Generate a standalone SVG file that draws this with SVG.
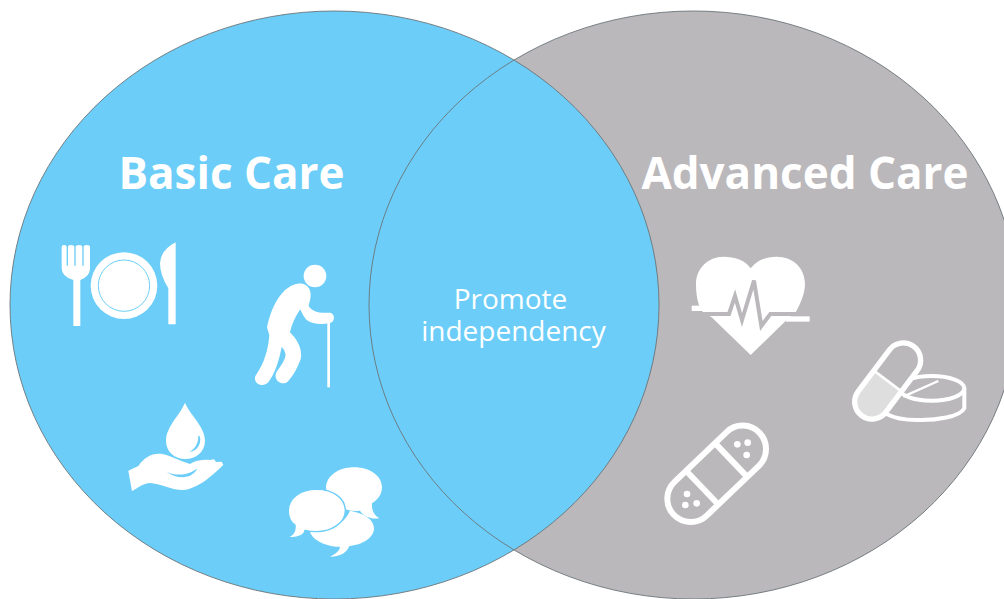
<svg xmlns="http://www.w3.org/2000/svg" width="1004" height="599" viewBox="0 0 1004 599">
<style>
.w{fill:#fff}
.t{fill:#fff;font-family:"Open Sans","Noto Sans","Liberation Sans",sans-serif;text-anchor:middle}
.h{font-size:44px;font-weight:700}
.s{font-size:28px}
.o{fill:none;stroke:#6a7478;stroke-width:.9}
.ln{fill:none;stroke:#fff;stroke-width:16;stroke-linecap:round;stroke-linejoin:round}
</style>
<rect width="1004" height="599" fill="#fff"/>
<g id="advanced-care">
<ellipse cx="693.5" cy="305" rx="324.5" ry="294" fill="#bab8bb"/>
<text class="t h" x="805" y="189">Advanced Care</text>
</g>
<g id="basic-care">
<ellipse cx="334.5" cy="305" rx="324.5" ry="294" fill="#6ccef8"/>
<text class="t h" x="231.500" y="189">Basic Care</text>
</g>
<g id="outlines">
<ellipse class="o" cx="693.5" cy="305" rx="324.5" ry="294"/>
<ellipse class="o" cx="334.5" cy="305" rx="324.5" ry="294"/>
</g>
<g id="promote">
<text class="t s"><tspan x="510.500" y="309">Promote</tspan><tspan x="513.500" y="341">independency</tspan></text>
</g>
<g id="meal-icon" transform="translate(40 220) scale(.3333)">
<path class="w" d="M65,80 Q65,75 72,75 Q80,75 80,80 V137 H84 V80 Q84,75 92,75 Q103,75 103,80 V137 H107 V80 Q107,75 117,75 Q127,75 127,80 V137 H131 V80 Q131,75 140,75 Q150,75 150,80 V145 Q150,170 121,180 V318 H100 V180 Q65,170 65,145 Z"/>
<circle class="w" cx="252" cy="197" r="100"/>
<circle cx="252" cy="197" r="77" fill="#fff" stroke="#6ccef8" stroke-width="3"/>
<path class="w" d="M407,67 V313 H385 V205 Q360,165 360,130 Q362,90 407,67 Z"/>
</g>
<g id="elder-icon" transform="translate(40 220) scale(.3333)">
<circle class="w" cx="825" cy="168" r="34"/>
<path class="w" d="M765,193 C785,187 805,193 811,215 C815,235 806,250 806,258 C818,275 835,280 868,278 C885,278 888,305 868,310 C840,314 815,312 800,300 Q790,290 781,268 C765,290 755,315 750,337 C775,362 788,390 782,418 C772,445 758,470 743,485 C725,500 697,478 710,455 C722,440 740,415 736,400 Q733,388 725,380 C718,420 705,460 685,487 C665,508 632,485 650,462 C672,430 685,390 688,345 L681,322 C690,280 705,240 735,210 Q750,197 765,193 Z"/>
<rect class="w" x="862" y="306" width="8" height="196"/>
</g>
<g id="water-icon" transform="translate(110 390) scale(.3333)">
<path class="w" d="M55,242 L85,228 C105,200 130,187 160,193 C185,198 205,212 240,222 C255,212 280,208 300,210 L312,208 L318,216 L335,215 L340,224 C310,255 265,295 220,300 C180,300 150,280 120,279 C100,280 85,292 66,304 Z"/>
<path d="M170,245 C195,258 235,258 262,235 C250,265 205,272 170,245 Z" fill="#6ccef8"/>
<path class="w" d="M225,38 C240,75 285,110 285,152 C285,185 258,207 226,207 C194,207 168,185 168,152 C168,110 210,75 225,38 Z" stroke="#6ccef8" stroke-width="5" paint-order="stroke"/>
<path d="M265,136 C266,160 255,178 238,186 C258,184 275,165 270,140 Z" fill="#6ccef8"/>
</g>
<g id="chat-icon" transform="translate(110 390) scale(.3333)">
<path class="w" d="M732,232 C780,232 816,258 816,292 C816,312 805,328 786,340 C785,360 790,375 808,385 C780,388 760,378 750,362 C700,370 650,330 648,292 C650,258 685,232 732,232 Z"/>
<path class="w" d="M720,362 C765,370 792,390 792,415 C792,445 755,465 718,468 C712,485 695,500 660,500 C680,490 690,480 690,470 C640,470 605,445 600,425 C640,430 700,410 720,362 Z"/>
<path class="w" d="M620,298 C670,298 706,325 706,362 C706,398 665,425 620,425 Q600,425 585,421 C585,432 565,448 533,442 C550,435 557,420 555,405 C540,395 535,380 535,362 C535,325 570,298 620,298 Z" stroke="#6ccef8" stroke-width="4"/>
</g>
<g id="heart-icon" transform="translate(660 240) scale(.3333)">
<path class="w" d="M272,85 C290,60 320,50 350,50 C400,50 435,85 435,132 C435,160 422,190 408,215 L380,240 L272,345 L155,232 L125,213 C112,190 108,160 108,132 C108,85 145,50 190,50 C225,50 255,60 272,85 Z"/>
<path d="M125,222 H207 L225,168 L246,240 L282,122 L304,258 L331,222 H410" fill="none" stroke="#bab8bb" stroke-width="12" stroke-linejoin="miter"/>
<rect class="w" x="95" y="197" width="35" height="16"/>
<rect class="w" x="378" y="229" width="71" height="16"/>
</g>
<g id="pills-icon" transform="translate(660 240) scale(.3333)">
<ellipse cx="815" cy="445" rx="98" ry="37" fill="none" stroke="#fff" stroke-width="12"/>
<path class="ln" style="stroke-width:12" d="M913,445 V505 C900,530 830,542 770,540 C730,540 700,533 680,522"/>
<path d="M835,423 L730,470" fill="none" stroke="#fff" stroke-width="7"/>
<g transform="translate(683 423) rotate(37)">
<rect x="-52" y="-130" width="104" height="260" rx="52" fill="#bab8bb"/>
<path d="M-52,0 H52 V78 A52,52 0 0 1 -52,78 Z" fill="#dedede"/>
<rect x="-52" y="-130" width="104" height="260" rx="52" fill="none" stroke="#fff" stroke-width="16"/>
<path d="M-52,0 H52" stroke="#fff" stroke-width="8"/>
</g>
</g>
<g id="bandage-icon" transform="translate(660 240) scale(.3333)">
<g transform="translate(170 701.500) rotate(-43.700)">
<rect x="-178" y="-70" width="356" height="140" rx="70" fill="none" stroke="#fff" stroke-width="18"/>
<path d="M-60,-70 V70 M60,-70 V70" stroke="#fff" stroke-width="18"/>
</g>
<circle class="w" cx="232" cy="613" r="10"/>
<circle class="w" cx="263" cy="608" r="10"/>
<circle class="w" cx="260" cy="645" r="10"/>
<circle class="w" cx="81" cy="762" r="10"/>
<circle class="w" cx="76" cy="795" r="10"/>
<circle class="w" cx="110" cy="790" r="10"/>
</g>
</svg>
